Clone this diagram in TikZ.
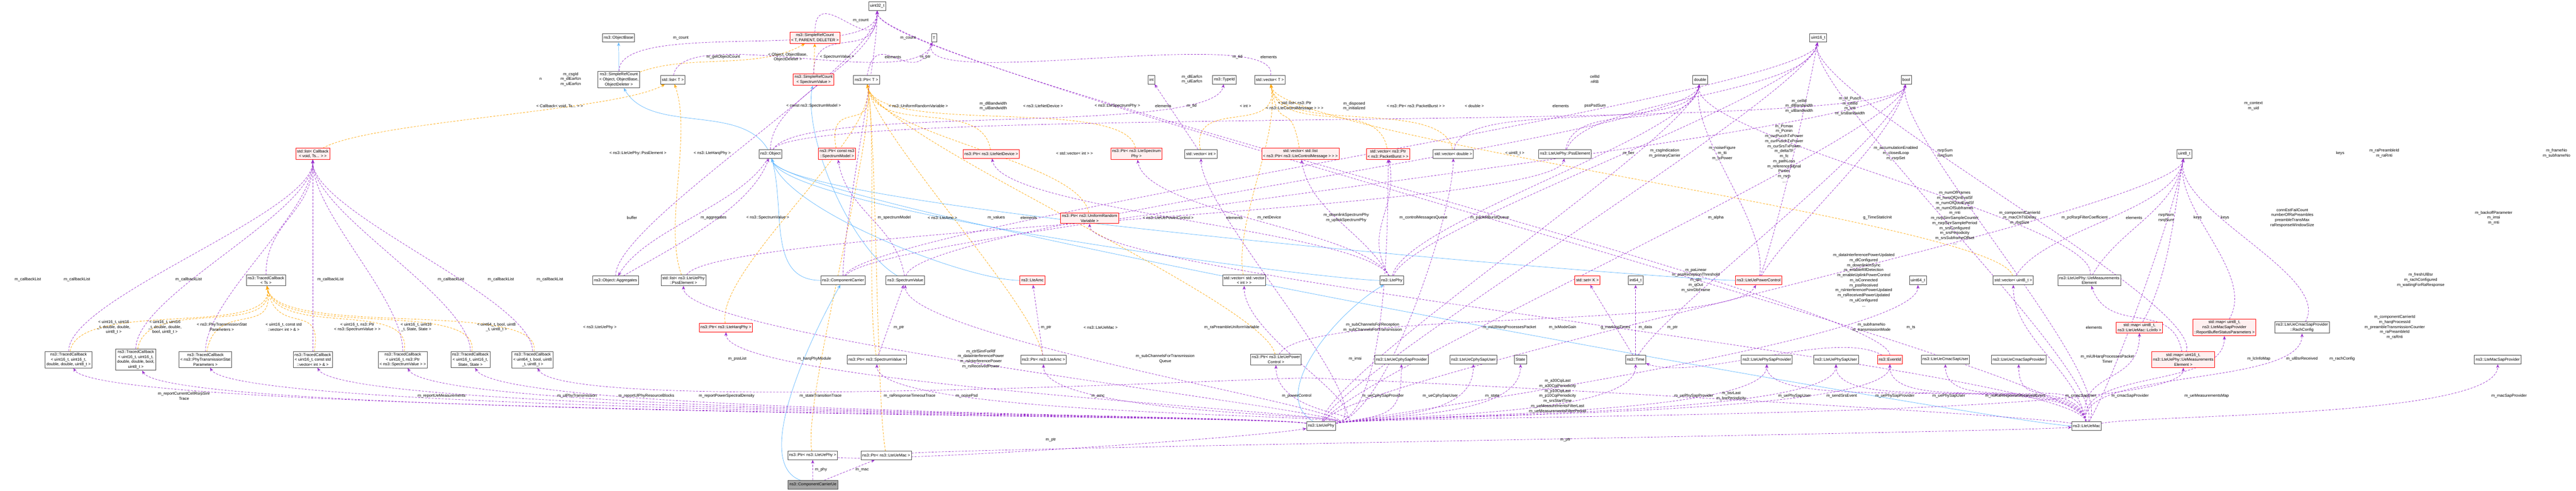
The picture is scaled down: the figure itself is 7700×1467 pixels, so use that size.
\documentclass[tikz,border=0pt]{standalone}
\usepackage{fontspec}
\setmainfont{Liberation Sans}
\usetikzlibrary{arrows.meta}
\definecolor{mem}{HTML}{9A32CD}
\definecolor{tpl}{HTML}{FFA500}
\definecolor{inh}{HTML}{63B8FF}
\definecolor{rfill}{HTML}{FFF0F0}
\pgfdeclarelayer{bg}\pgfsetlayers{bg,main}
\tikzset{
 cls/.style={draw=gray!60!black,fill=white,line width=0.33pt,inner sep=1pt,align=center,minimum height=6.5pt,font=\fontsize{3}{3.75}\selectfont},
 red/.style={cls,draw=red,fill=rfill},
 grayb/.style={cls,fill=gray!70},
 lbl/.style={align=center,inner sep=0pt,font=\fontsize{3}{3.75}\selectfont},
 memb/.style={draw=mem,distance=40pt,line width=0.28pt,dash pattern=on 1.5pt off 1pt,-{Stealth[length=2.8pt,width=2.3pt]}},
 tmpl/.style={draw=tpl,distance=40pt,line width=0.28pt,dash pattern=on 1.5pt off 1pt,-{Stealth[length=2.8pt,width=2.3pt]}},
 inhe/.style={draw=inh,distance=40pt,line width=0.28pt,-{Stealth[length=2.8pt,width=2.3pt]}},
}
\begin{document}
\begin{tikzpicture}[x=0.25pt,y=-0.25pt]
\useasboundingbox (0,0) rectangle (7700,1467);
% nodes
\node[red] (cblist) at (935,460) {std::list< Callback\\< void, Ts... > >};
\node[cls] (u32) at (2622,18) {uint32\_t};
\node[cls] (objbase) at (1849,113) {ns3::ObjectBase};
\node[red] (srctpd) at (2436,113) {ns3::SimpleRefCount\\< T, PARENT, DELETER >};
\node[cls] (srcobj) at (1850,238) {ns3::SimpleRefCount\\< Object, ObjectBase,\\ObjectDeleter >};
\node[cls] (listT) at (2011,238) {std::list< T >};
\node[red] (srcsv) at (2432,238) {ns3::SimpleRefCount\\< SpectrumValue >};
\node[cls] (ptrT) at (2590,238) {ns3::Ptr< T >};
\node[cls] (T) at (2792,113) {T};
\node[cls] (int) at (3442,238) {int};
\node[cls] (typeid) at (3660,238) {ns3::TypeId};
\node[cls] (vecT) at (3796,238) {std::vector< T >};
\node[cls] (double) at (5082,238) {double};
\node[cls] (u16) at (5435,113) {uint16\_t};
\node[cls] (bool) at (5698,238) {bool};
\node[cls] (u8) at (6529,460) {uint8\_t};
\node[cls] (object) at (2303,460) {ns3::Object};
\node[red] (ptrsm) at (2502,460) {ns3::Ptr< const ns3\\::SpectrumModel >};
\node[red] (ptrnd) at (2963,460) {ns3::Ptr< ns3::LteNetDevice >};
\node[red] (ptrsp) at (3397,460) {ns3::Ptr< ns3::LteSpectrum\\Phy >};
\node[cls] (vecint) at (3590,460) {std::vector< int >};
\node[red] (veclist) at (3887,460) {std::vector< std::list\\< ns3::Ptr< ns3::LteControlMessage > > >};
\node[red] (vecpb) at (4149,460) {std::vector< ns3::Ptr\\< ns3::PacketBurst > >};
\node[cls] (vecdbl) at (4344,460) {std::vector< double >};
\node[cls] (psse) at (4678,460) {ns3::LteUePhy::PssElement};
\node[red] (ptrurv) at (3257,652) {ns3::Ptr< ns3::UniformRandom\\Variable >};
\node[cls] (tcts) at (795,838) {ns3::TracedCallback\\< Ts >};
\node[cls] (aggr) at (1840,838) {ns3::Object::Aggregates};
\node[cls] (listpss) at (2043,838) {std::list< ns3::LteUePhy\\::PssElement >};
\node[cls] (cc) at (2520,838) {ns3::ComponentCarrier};
\node[cls] (sv) at (2706,838) {ns3::SpectrumValue};
\node[red] (amc) at (3086,838) {ns3::LteAmc};
\node[cls] (vecvec) at (3719,838) {std::vector< std::vector\\< int > >};
\node[cls] (ltephy) at (4160,838) {ns3::LtePhy};
\node[red] (setk) at (4745,838) {std::set< K >};
\node[cls] (i64) at (4889,838) {int64\_t};
\node[red] (pc) at (5257,838) {ns3::LteUePowerControl};
\node[cls] (u64) at (5733,838) {uint64\_t};
\node[cls] (vecu8) at (6018,838) {std::vector< uint8\_t >};
\node[cls] (uemeas) at (6245,838) {ns3::LteUePhy::UeMeasurements\\Element};
\node[red] (ptrharq) at (2170,979) {ns3::Ptr< ns3::LteHarqPhy >};
\node[red] (maplc) at (6395,979) {std::map< uint8\_t,\\ns3::LteUeMac::LcInfo >};
\node[red] (mapbsr) at (6649,979) {std::map< uint8\_t,\\ns3::LteMacSapProvider\\::ReportBufferStatusParameters >};
\node[cls] (rach) at (6881,979) {ns3::LteUeCmacSapProvider\\::RachConfig};
\node[cls] (tc1) at (205,1075) {ns3::TracedCallback\\< uint16\_t, uint16\_t,\\double, double, uint8\_t >};
\node[cls] (tc2) at (406,1075) {ns3::TracedCallback\\< uint16\_t, uint16\_t,\\double, double, bool,\\uint8\_t >};
\node[cls] (tc3) at (614,1075) {ns3::TracedCallback\\< ns3::PhyTransmissionStat\\Parameters >};
\node[cls] (tc4) at (935,1075) {ns3::TracedCallback\\< uint16\_t, const std\\::vector< int > \& >};
\node[cls] (tc5) at (1204,1075) {ns3::TracedCallback\\< uint16\_t, ns3::Ptr\\< ns3::SpectrumValue > >};
\node[cls] (tc6) at (1406,1075) {ns3::TracedCallback\\< uint16\_t, uint16\_t,\\State, State >};
\node[cls] (tc7) at (1592,1075) {ns3::TracedCallback\\< uint64\_t, bool, uint8\\\_t, uint8\_t >};
\node[cls] (ptrsv) at (2621,1075) {ns3::Ptr< ns3::SpectrumValue >};
\node[cls] (ptramc) at (3119,1075) {ns3::Ptr< ns3::LteAmc >};
\node[cls] (ptrpc) at (3814,1075) {ns3::Ptr< ns3::LteUePower\\Control >};
\node[cls] (cphyprov) at (4189,1075) {ns3::LteUeCphySapProvider};
\node[cls] (cphyuser) at (4404,1075) {ns3::LteUeCphySapUser};
\node[cls] (state) at (4545,1075) {State};
\node[cls] (time) at (4889,1075) {ns3::Time};
\node[cls] (physprov) at (5281,1075) {ns3::LteUePhySapProvider};
\node[cls] (physuser) at (5488,1075) {ns3::LteUePhySapUser};
\node[red] (eventid) at (5649,1075) {ns3::EventId};
\node[cls] (cmacuser) at (5815,1075) {ns3::LteUeCmacSapUser};
\node[cls] (cmacprov) at (6034,1075) {ns3::LteUeCmacSapProvider};
\node[red] (mapmeas) at (6526,1075) {std::map< uint16\_t,\\ns3::LteUePhy::UeMeasurements\\Element >};
\node[cls] (macsap) at (7466,1075) {ns3::LteMacSapProvider};
\node[cls] (uephy) at (3949,1273) {ns3::LteUePhy};
\node[cls] (uemac) at (6237,1273) {ns3::LteUeMac};
\node[cls] (ptrphy) at (2429,1361) {ns3::Ptr< ns3::LteUePhy >};
\node[cls] (ptrmac) at (2649,1361) {ns3::Ptr< ns3::LteUeMac >};
\node[grayb] (ccue) at (2430,1449) {ns3::ComponentCarrierUe};
\coordinate (via) at (3900,1130);

\begin{pgfonlayer}{bg}
% inheritance
\draw[inhe] (srcobj) -- (objbase);
\draw[inhe] (object) to[out=120,in=-60] (srcobj);
\draw[inhe] (sv) to[out=150,in=-100] (srcsv);
\foreach \s in {cc,ltephy,amc,uemac,pc} \draw[inhe] (\s) to[out=180,in=-75] (object);
\draw[inhe] (ccue) to[out=160,in=-120] (cc);
\draw[inhe] (uephy) to[out=150,in=-150] (ltephy);
% templates
\draw[tmpl] (cblist) to[out=30,in=-150] (listT);
\draw[tmpl] (listpss) to[out=110,in=-70] (listT);
\draw[tmpl] (srcobj) to[out=20,in=-150] (srctpd);
\draw[tmpl] (srcsv) -- (srctpd);
\foreach \s in {ptrsm,ptrnd,ptrsp,ptrurv,ptrharq,ptrsv,ptramc,ptrpc,ptrphy,ptrmac} \draw[tmpl] (\s) to[out=100,in=-80] (ptrT);
\foreach \s in {vecint,vecvec,veclist,vecpb,vecdbl,vecu8} \draw[tmpl] (\s) to[out=100,in=-80] (vecT);
\foreach \s in {tc1,tc2,tc3,tc4,tc5,tc6,tc7} \draw[tmpl] (\s) to[out=80,in=-80] (tcts);
% members
\foreach \s in {srcobj,srctpd,srcsv,object,aggr,cc,eventid,uemac} \draw[memb] (\s) to[out=90,in=-90] (u32);
\foreach \s in {listT,ptrT,vecT} \draw[memb] (\s) to[out=80,in=-110] (T);
\draw[memb] (object) to[out=60,in=-100] (typeid);
\draw[memb] (vecint) -- (int);
\draw[memb] (object) to[out=-120,in=60] (aggr);
\draw[memb] (aggr) to[out=30,in=-110] (object);
\draw[memb] (sv) to[out=100,in=-80] (ptrsm);
\foreach \s in {sv,vecdbl,psse,ltephy,pc,uephy,uemeas} \draw[memb] (\s) to[out=80,in=-100] (double);
\foreach \s in {psse,ltephy,cc,pc,uephy,mapmeas,uemac} \draw[memb] (\s) to[out=70,in=-100] (u16);
\foreach \s in {cc,object,pc,uephy,uemac,time} \draw[memb] (\s) to[out=60,in=-100] (bool);
\foreach \s in {uephy,uemac,rach,maplc,mapbsr,vecu8,uemeas} \draw[memb] (\s) to[out=60,in=-100] (u8);
\draw[memb] (listpss) to[out=60,in=-100] (psse);
\foreach \s in {ptrnd,ptrsp,veclist,vecpb} \draw[memb] (ltephy) to[out=120,in=-80] (\s);
\foreach \s in {cphyprov,cphyuser,state,time,physprov,physuser,eventid,mapmeas,ptrpc,ptramc,ptrsv,sv,vecvec,vecint,listpss,ptrharq,vecdbl,vecpb,u64} \draw[memb] (uephy) to[out=10,in=-90] (\s);
\foreach \s in {tc1,tc2,tc3,tc4,tc5,tc6} \draw[memb] (uephy) to[out=170,in=-60] (\s);
\foreach \s in {cmacuser,cmacprov,physuser,physprov,eventid,maplc,mapbsr,rach,vecu8,ptrurv} \draw[memb] (uemac) to[out=100,in=-90] (\s);
\draw[memb] (uemac) to[out=10,in=-90] (macsap);
\draw[memb] (uemac) to[out=170,in=0] (via) to[out=180,in=-60] (tc7);
\draw[memb] (time) -- (i64);
\draw[memb] (time) -- (setk);
\draw[memb] (eventid) to[out=150,in=-20] (time);
\draw[memb] (mapmeas) to[out=100,in=-70] (uemeas);
\foreach \s in {tc1,tc2,tc3,tc4,tc5,tc6,tc7,tcts} \draw[memb] (\s) to[out=90,in=-90] (cblist);
\draw[memb] (ptrmac) to[out=5,in=185] (uemac);
\draw[memb] (ptrphy) to[out=-5,in=190] (uephy);
\draw[memb] (ccue) -- (ptrphy);
\draw[memb] (ccue) -- (ptrmac);
\draw[memb] (ptramc) -- (amc);
\draw[memb] (ptrsv) -- (sv);
\draw[memb] (ptrpc) to[out=60,in=-120] (pc);
\end{pgfonlayer}

% labels
\node[lbl] at (2035,113) {m\_count};
\node[lbl] at (2573,61) {m\_count};
\node[lbl] at (2714,113) {m\_count};
\node[lbl] at (1616,237) {n};
\node[lbl] at (1706,237) {m\_csgId\\m\_dlEarfcn\\m\_ulEarfcn};
\node[lbl] at (2162,170) {m\_getObjectCount};
\node[lbl] at (2355,171) {< Object, ObjectBase,\\ObjectDeleter >};
\node[lbl] at (2502,170) {< SpectrumValue >};
\node[lbl] at (1673,317) {< Callback< void, Ts... > >};
\node[lbl] at (2432,317) {< const ns3::SpectrumModel >};
\node[lbl] at (1907,458) {< ns3::LteUePhy::PssElement >};
\node[lbl] at (2129,458) {< ns3::LteHarqPhy >};
\node[lbl] at (1889,651) {buffer};
\node[lbl] at (2133,651) {m\_aggregates};
\node[lbl] at (2295,651) {< ns3::SpectrumValue >};
\node[lbl] at (2669,170) {elements};
\node[lbl] at (2766,170) {m\_ptr};
\node[lbl] at (2745,317) {< ns3::UniformRandomVariable >};
\node[lbl] at (2969,317) {m\_dlBandwidth\\m\_ulBandwidth};
\node[lbl] at (3118,317) {< ns3::LteNetDevice >};
\node[lbl] at (3340,317) {< ns3::LteSpectrumPhy >};
\node[lbl] at (3477,317) {elements};
\node[lbl] at (3562,317) {m\_tid};
\node[lbl] at (3723,317) {< int >};
\node[lbl] at (3870,317) {< std::list< ns3::Ptr\\< ns3::LteControlMessage > > >};
\node[lbl] at (3563,237) {m\_dlEarfcn\\m\_ulEarfcn};
\node[lbl] at (3699,170) {m\_tid};
\node[lbl] at (3792,170) {elements};
\node[lbl] at (3212,458) {< std::vector< int > >};
\node[lbl] at (2673,651) {m\_spectrumModel};
\node[lbl] at (2817,651) {< ns3::LteAmc >};
\node[lbl] at (2978,651) {m\_values};
\node[lbl] at (3075,651) {elements};
\node[lbl] at (3492,651) {< ns3::LteUePowerControl >};
\node[lbl] at (3690,651) {elements};
\node[lbl] at (3794,651) {m\_netDevice};
\node[lbl] at (4048,317) {m\_disposed\\m\_initialized};
\node[lbl] at (4232,317) {< ns3::Ptr< ns3::PacketBurst > >};
\node[lbl] at (4407,317) {< double >};
\node[lbl] at (4767,237) {cellId\\nRB};
\node[lbl] at (4665,317) {elements};
\node[lbl] at (4768,317) {pssPsdSum};
\node[lbl] at (4528,458) {< uint8\_t >};
\node[lbl] at (4868,458) {m\_ber};
\node[lbl] at (4976,458) {m\_csgIndication\\m\_primaryCarrier};
\node[lbl] at (5148,458) {m\_noiseFigure\\m\_tti\\m\_txPower};
\node[lbl] at (4024,651) {m\_downlinkSpectrumPhy\\m\_uplinkSpectrumPhy};
\node[lbl] at (4255,651) {m\_controlMessagesQueue};
\node[lbl] at (4453,651) {m\_packetBurstQueue};
\node[lbl] at (5129,651) {m\_alpha};
\node[lbl] at (5378,317) {m\_cellId\\m\_dlBandwidth\\m\_ulBandwidth};
\node[lbl] at (5530,317) {m\_M\_Pusch\\m\_cellId\\m\_rnti\\m\_srsBandwidth};
\node[lbl] at (5333,459) {m\_Pcmax\\m\_Pcmin\\m\_curPucchTxPower\\m\_curPuschTxPower\\m\_curSrsTxPower\\m\_deltaTF\\m\_fc\\m\_pathLoss\\m\_referenceSignal\\Power\\m\_rsrp\\...};
\node[lbl] at (5667,458) {m\_accumulationEnabled\\m\_closedLoop\\m\_rsrpSet};
\node[lbl] at (5814,458) {rsrpSum\\rsrqSum};
\node[lbl] at (5612,651) {g\_TimeStaticInit};
\node[lbl] at (5843,651) {m\_numOfFrames\\m\_numOfQinEvalSf\\m\_numOfQoutEvalSf\\m\_numOfSubframes\\m\_rnti\\m\_rsrpSinrSampleCounter\\m\_rsrpSinrSamplePeriod\\m\_srsConfigured\\m\_srsPeriodicity\\m\_srsSubframeOffset\\...};
\node[lbl] at (6037,651) {m\_componentCarrierId\\m\_macChTtiDelay\\m\_rbgSize};
\node[lbl] at (6231,651) {m\_pcRsrpFilterCoefficient};
\node[lbl] at (6379,651) {elements};
\node[lbl] at (6475,651) {rsrpNum\\rsrqNum};
\node[lbl] at (6736,317) {m\_context\\m\_uid};
\node[lbl] at (6995,458) {keys};
\node[lbl] at (7127,458) {m\_raPreambleId\\m\_raRnti};
\node[lbl] at (7642,458) {m\_frameNo\\m\_subframeNo};
\node[lbl] at (6569,651) {keys};
\node[lbl] at (6651,651) {keys};
\node[lbl] at (6852,651) {connEstFailCount\\numberOfRaPreambles\\preambleTransMax\\raResponseWindowSize};
\node[lbl] at (7454,651) {m\_backoffParameter\\m\_imsi\\m\_rnti};
\foreach \x in {83,230,564,988,1348,1497,1644} \node[lbl] at (\x,836) {m\_callbackList};
\node[lbl] at (340,978) {< uint16\_t, uint16\\\_t, double, double,\\uint8\_t >};
\node[lbl] at (493,978) {< uint16\_t, uint16\\\_t, double, double,\\bool, uint8\_t >};
\node[lbl] at (663,978) {< ns3::PhyTransmissionStat\\Parameters >};
\node[lbl] at (848,978) {< uint16\_t, const std\\::vector< int > \& >};
\node[lbl] at (1068,978) {< uint16\_t, ns3::Ptr\\< ns3::SpectrumValue > >};
\node[lbl] at (1244,978) {< uint16\_t, uint16\\\_t, State, State >};
\node[lbl] at (1484,978) {< uint64\_t, bool, uint8\\\_t, uint8\_t >};
\node[lbl] at (550,1184) {m\_reportCurrentCellRsrpSinr\\Trace};
\node[lbl] at (1320,1184) {m\_reportUeMeasurements};
\node[lbl] at (1793,978) {< ns3::LteUePhy >};
\node[lbl] at (2204,1073) {m\_pssList};
\node[lbl] at (2434,1073) {m\_harqPhyModule};
\node[lbl] at (1725,1184) {m\_ulPhyTransmission};
\node[lbl] at (1932,1184) {m\_reportUlPhyResourceBlocks};
\node[lbl] at (2172,1184) {m\_reportPowerSpectralDensity};
\node[lbl] at (2453,1184) {m\_stateTransitionTrace};
\node[lbl] at (2454,1404) {m\_phy};
\node[lbl] at (2577,1404) {m\_mac};
\node[lbl] at (2687,979) {m\_ptr};
\node[lbl] at (3127,979) {m\_ptr};
\node[lbl] at (3290,979) {< ns3::LteUeMac >};
\node[lbl] at (3682,979) {m\_raPreambleUniformVariable};
\node[lbl] at (2932,1073) {m\_ctrlSinrForRlf\\m\_dataInterferencePower\\m\_rsInterferencePower\\m\_rsReceivedPower};
\node[lbl] at (3483,1073) {m\_subChannelsForTransmission\\Queue};
\node[lbl] at (2719,1184) {m\_raResponseTimeoutTrace};
\node[lbl] at (2890,1184) {m\_noisePsd};
\node[lbl] at (3282,1184) {m\_amc};
\node[lbl] at (3876,1184) {m\_powerControl};
\node[lbl] at (3141,1315) {m\_ptr};
\node[lbl] at (4103,979) {m\_subChannelsForReception\\m\_subChannelsForTransmission};
\node[lbl] at (4512,979) {m\_miUlHarqProcessesPacket};
\node[lbl] at (4671,979) {m\_txModeGain};
\node[lbl] at (4829,979) {g\_markingTimes};
\node[lbl] at (4918,979) {m\_data};
\node[lbl] at (4999,979) {m\_ptr};
\node[lbl] at (5069,837) {m\_paLinear\\m\_pssReceptionThreshold\\m\_qIn\\m\_qOut\\m\_sinrDbFrame};
\node[lbl] at (4051,1073) {m\_imsi};
\node[lbl] at (4134,1184) {m\_ueCphySapProvider};
\node[lbl] at (4305,1184) {m\_ueCphySapUser};
\node[lbl] at (4461,1184) {m\_state};
\node[lbl] at (4656,1184) {m\_a30CqiLast\\m\_a30CqiPeriodicity\\m\_p10CqiLast\\m\_p10CqiPeriodicity\\m\_srsStartTime\\m\_ueMeasurementsFilterLast\\m\_ueMeasurementsFilterPeriod};
\node[lbl] at (5063,1184) {m\_uePhySapProvider};
\node[lbl] at (5175,1184) {m\_bsrLast\\m\_bsrPeriodicity};
\node[lbl] at (4679,1315) {m\_ptr};
\node[lbl] at (5571,837) {m\_dataInterferencePowerUpdated\\m\_dlConfigured\\m\_downlinkInSync\\m\_enableRlfDetection\\m\_enableUplinkPowerControl\\m\_isConnected\\m\_pssReceived\\m\_rsInterferencePowerUpdated\\m\_rsReceivedPowerUpdated\\m\_ulConfigured\\...};
\node[lbl] at (5594,979) {m\_subframeNo\\m\_transmissionMode};
\node[lbl] at (5712,979) {m\_ts};
\node[lbl] at (6259,979) {elements};
\node[lbl] at (6299,1073) {m\_miUlHarqProcessesPacket\\Timer};
\node[lbl] at (5364,1184) {m\_uePhySapUser};
\node[lbl] at (5505,1184) {m\_sendSrsEvent};
\node[lbl] at (5664,1184) {m\_uePhySapProvider};
\node[lbl] at (5825,1184) {m\_uePhySapUser};
\node[lbl] at (6024,1184) {m\_noRaResponseReceivedEvent};
\node[lbl] at (6220,1184) {m\_cmacSapUser};
\node[lbl] at (6367,1184) {m\_cmacSapProvider};
\node[lbl] at (7236,837) {m\_freshUlBsr\\m\_rachConfigured\\m\_waitingForRaResponse};
\node[lbl] at (7158,978) {m\_componentCarrierId\\m\_harqProcessId\\m\_preambleTransmissionCounter\\m\_raPreambleId\\m\_raRnti};
\node[lbl] at (6752,1073) {m\_lcInfoMap};
\node[lbl] at (6881,1073) {m\_ulBsrReceived};
\node[lbl] at (7001,1073) {m\_rachConfig};
\node[lbl] at (6596,1184) {m\_ueMeasurementsMap};
\node[lbl] at (7500,1184) {m\_macSapProvider};
\end{tikzpicture}
\end{document}
